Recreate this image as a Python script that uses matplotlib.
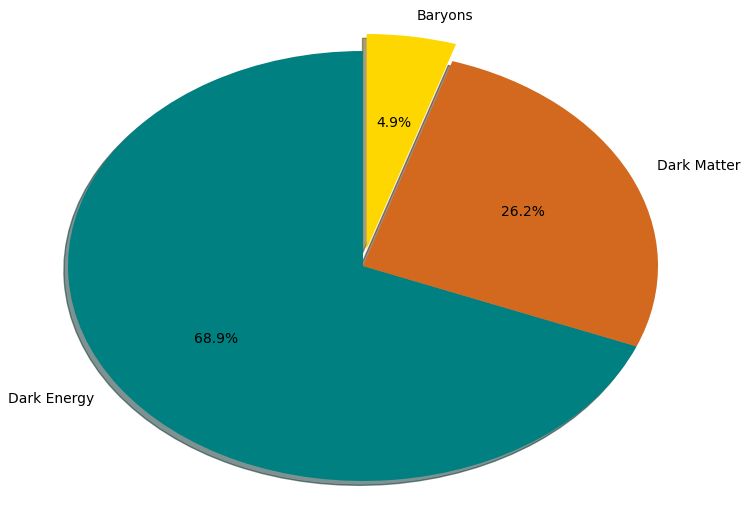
import matplotlib
matplotlib.use("Agg")
import matplotlib.pyplot as plt

labels = ["Dark Energy", "Dark Matter", "Baryons"]
sizes = [68.9, 26.2, 4.9]
colors = ["#008080", "#D2691E", "#FFD700"]
explode = [0, 0, 0.08]

fig = plt.figure(figsize=(7.47, 5.06), dpi=100)
ax = fig.add_axes([0, 0, 1, 1])
ax.pie(sizes, labels=labels, colors=colors, explode=explode,
       autopct="%1.1f%%", shadow={"ox": -0.01, "oy": -0.0145},
       startangle=90, textprops={"fontsize": 10})
W, H = 747, 506
cx, cy = 363, 267
rx, ry = 295, 215
ax.set_xlim(-cx / rx, (W - cx) / rx)
ax.set_ylim(-(H - cy) / ry, cy / ry)
ax.set_aspect("auto")
ax.axis("off")
fig.savefig("out.png", dpi=100)
